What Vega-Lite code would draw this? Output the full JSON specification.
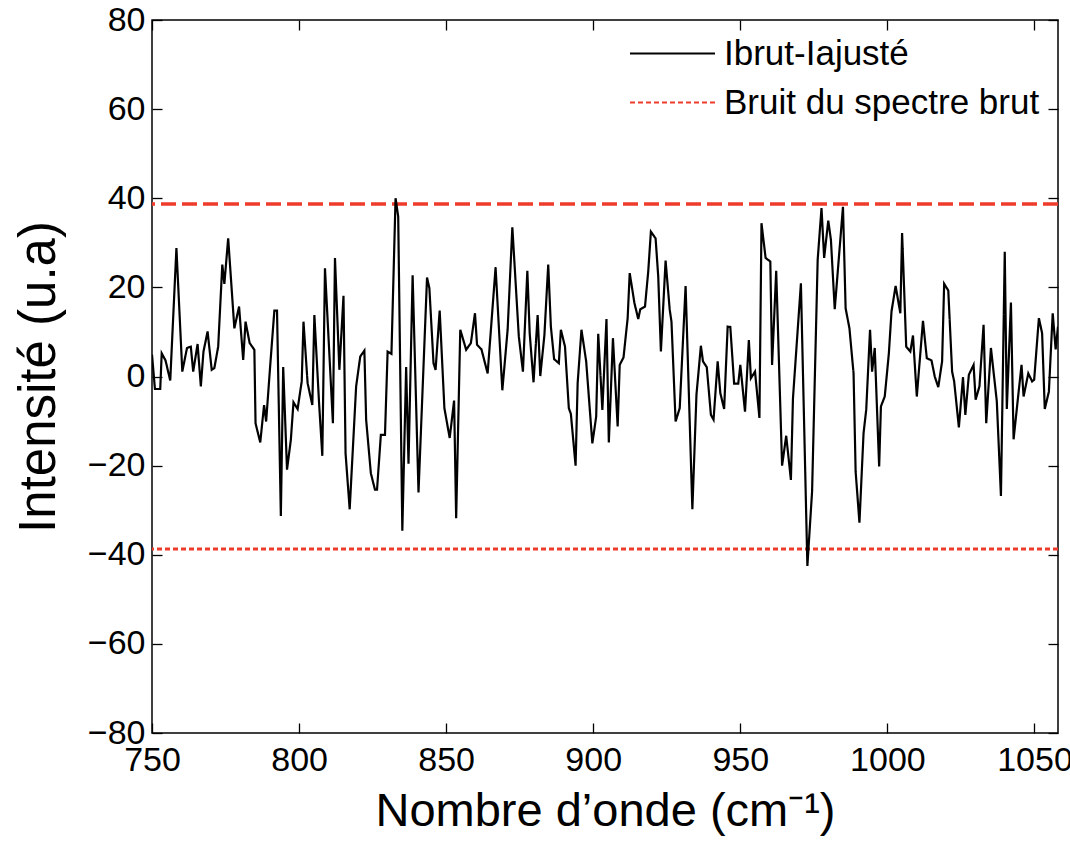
{
  "$schema": "https://vega.github.io/schema/vega-lite/v6.json",
  "width": 906,
  "height": 713,
  "autosize": {"type": "none"},
  "padding": {"left": 152, "top": 20, "right": 12, "bottom": 111},
  "background": "white",
  "config": {
    "font": "Liberation Sans",
    "view": {"stroke": "black", "strokeWidth": 1.5},
    "axis": {
      "grid": false,
      "domain": false,
      "offset": -10,
      "tickColor": "black",
      "tickWidth": 1.3,
      "tickSize": 10,
      "labelFlush": false,
      "labelColor": "black",
      "titleColor": "black",
      "labelFont": "Liberation Sans",
      "titleFont": "Liberation Sans",
      "labelFontSize": 34,
      "titleFontSize": 47,
      "titleFontWeight": "normal"
    },
    "legend": {
      "orient": "none",
      "legendX": 503,
      "legendY": 16,
      "labelFont": "Liberation Sans",
      "labelFontSize": 35,
      "labelColor": "black",
      "labelLimit": 500,
      "symbolType": "M-3,0H3",
      "symbolSize": 802,
      "symbolStrokeWidth": 2,
      "rowPadding": 13,
      "labelOffset": 34,
      "padding": 0
    }
  },
  "datasets": {
    "spec": [
      {"x":750.0,"y":4.9},{"x":751.0,"y":-2.8},{"x":752.8,"y":-2.8},{"x":753.3,"y":5.2},{"x":754.6,"y":3.6},
      {"x":756.2,"y":-0.9},{"x":758.3,"y":28.8},{"x":760.3,"y":1.1},{"x":761.9,"y":6.4},{"x":763.2,"y":6.7},
      {"x":764.0,"y":1.1},{"x":765.5,"y":7.3},{"x":766.6,"y":-2.2},{"x":767.5,"y":5.6},{"x":768.9,"y":10.1},
      {"x":770.3,"y":1.5},{"x":771.2,"y":1.9},{"x":772.5,"y":6.7},{"x":773.9,"y":25.1},{"x":774.6,"y":20.8},
      {"x":775.9,"y":31.0},{"x":778.0,"y":10.8},{"x":779.6,"y":15.7},{"x":781.0,"y":3.7},{"x":781.8,"y":12.3},
      {"x":783.2,"y":7.5},{"x":784.8,"y":6.0},{"x":785.2,"y":-10.5},{"x":786.8,"y":-14.8},{"x":788.1,"y":-6.4},
      {"x":788.8,"y":-10.1},{"x":790.2,"y":2.6},{"x":791.6,"y":14.8},{"x":792.5,"y":14.8},{"x":793.8,"y":-31.3},
      {"x":794.6,"y":2.1},{"x":795.9,"y":-20.9},{"x":797.2,"y":-14.2},{"x":798.1,"y":-5.8},{"x":799.5,"y":-7.3},
      {"x":800.9,"y":-1.1},{"x":801.5,"y":12.3},{"x":802.9,"y":-1.5},{"x":804.5,"y":-6.4},{"x":805.2,"y":13.8},
      {"x":806.8,"y":-6.0},{"x":807.9,"y":-17.8},{"x":808.8,"y":24.3},{"x":811.5,"y":-10.5},{"x":812.2,"y":26.6},
      {"x":813.7,"y":1.5},{"x":815.1,"y":18.1},{"x":815.8,"y":-17.2},{"x":817.2,"y":-29.8},{"x":819.4,"y":-2.2},
      {"x":820.8,"y":4.5},{"x":822.2,"y":5.8},{"x":822.8,"y":-9.7},{"x":824.4,"y":-21.7},{"x":825.8,"y":-25.4},
      {"x":826.5,"y":-25.4},{"x":827.8,"y":-13.1},{"x":829.2,"y":-13.1},{"x":830.1,"y":5.6},{"x":831.4,"y":5.1},
      {"x":832.8,"y":40.0},{"x":833.7,"y":35.9},{"x":835.1,"y":-34.6},{"x":836.4,"y":2.1},{"x":837.2,"y":-19.6},
      {"x":838.6,"y":22.7},{"x":840.6,"y":-26.0},{"x":843.5,"y":22.2},{"x":844.3,"y":19.8},{"x":845.7,"y":3.0},
      {"x":846.4,"y":1.5},{"x":847.8,"y":14.8},{"x":849.4,"y":-7.1},{"x":851.2,"y":-13.8},{"x":852.7,"y":-5.4},
      {"x":853.4,"y":-31.8},{"x":854.8,"y":10.5},{"x":856.8,"y":6.0},{"x":858.4,"y":7.5},{"x":859.8,"y":14.2},
      {"x":860.5,"y":7.1},{"x":862.0,"y":6.1},{"x":864.1,"y":0.7},{"x":866.8,"y":24.5},{"x":869.1,"y":-3.1},
      {"x":870.9,"y":10.5},{"x":872.5,"y":33.5},{"x":874.7,"y":9.0},{"x":876.1,"y":1.1},{"x":877.6,"y":23.7},
      {"x":878.4,"y":9.7},{"x":879.7,"y":-1.3},{"x":881.1,"y":13.8},{"x":882.0,"y":0.1},{"x":883.4,"y":9.3},
      {"x":884.7,"y":25.1},{"x":885.6,"y":11.2},{"x":886.7,"y":3.9},{"x":888.3,"y":3.0},{"x":889.0,"y":10.5},
      {"x":890.4,"y":6.7},{"x":891.7,"y":-7.1},{"x":892.4,"y":-8.4},{"x":894.0,"y":-20.0},{"x":894.7,"y":-1.5},
      {"x":896.0,"y":10.5},{"x":897.6,"y":3.4},{"x":899.7,"y":-15.0},{"x":901.0,"y":-9.0},{"x":901.7,"y":9.6},
      {"x":903.1,"y":-7.5},{"x":904.5,"y":12.9},{"x":905.3,"y":-14.8},{"x":906.7,"y":8.6},{"x":908.3,"y":-11.2},
      {"x":909.0,"y":2.6},{"x":910.3,"y":4.3},{"x":911.7,"y":13.1},{"x":912.4,"y":23.2},{"x":914.0,"y":16.5},
      {"x":915.3,"y":12.9},{"x":916.0,"y":15.1},{"x":917.6,"y":15.7},{"x":918.7,"y":23.6},{"x":919.6,"y":32.5},
      {"x":921.2,"y":31.0},{"x":922.1,"y":22.4},{"x":923.0,"y":5.6},{"x":924.6,"y":26.0},{"x":926.0,"y":15.0},
      {"x":926.6,"y":12.3},{"x":928.0,"y":-10.1},{"x":929.4,"y":-7.1},{"x":931.4,"y":20.3},{"x":933.7,"y":-29.8},
      {"x":935.1,"y":-4.0},{"x":936.6,"y":6.9},{"x":937.3,"y":3.4},{"x":938.6,"y":2.1},{"x":940.0,"y":-8.6},
      {"x":940.9,"y":-9.7},{"x":942.3,"y":3.4},{"x":943.2,"y":-3.7},{"x":944.5,"y":-7.3},{"x":945.7,"y":11.2},
      {"x":946.6,"y":11.1},{"x":947.9,"y":-1.6},{"x":949.3,"y":-1.6},{"x":950.0,"y":2.6},{"x":951.6,"y":-7.9},
      {"x":952.9,"y":8.2},{"x":953.6,"y":-0.4},{"x":955.0,"y":1.1},{"x":956.5,"y":-9.3},{"x":957.2,"y":34.4},
      {"x":958.6,"y":26.6},{"x":960.2,"y":25.8},{"x":960.8,"y":2.6},{"x":962.2,"y":23.7},{"x":964.2,"y":-20.0},
      {"x":965.6,"y":-13.3},{"x":967.2,"y":-23.2},{"x":967.9,"y":-4.9},{"x":970.6,"y":20.9},{"x":972.8,"y":-42.5},
      {"x":974.4,"y":-25.8},{"x":976.3,"y":26.2},{"x":977.6,"y":37.8},{"x":978.5,"y":26.6},{"x":979.9,"y":35.0},
      {"x":980.8,"y":30.7},{"x":982.1,"y":15.1},{"x":984.9,"y":38.1},{"x":985.8,"y":15.3},{"x":987.1,"y":10.8},
      {"x":988.5,"y":0.7},{"x":989.2,"y":-21.3},{"x":990.5,"y":-32.8},{"x":991.9,"y":-12.7},{"x":992.8,"y":-7.5},
      {"x":994.1,"y":10.5},{"x":994.8,"y":1.1},{"x":995.7,"y":6.4},{"x":997.2,"y":-20.2},{"x":997.8,"y":-6.7},
      {"x":999.1,"y":-4.5},{"x":1000.5,"y":5.2},{"x":1001.4,"y":14.6},{"x":1002.8,"y":20.3},{"x":1004.4,"y":14.2},
      {"x":1005.0,"y":32.2},{"x":1006.4,"y":6.7},{"x":1007.8,"y":5.6},{"x":1008.7,"y":9.2},{"x":1010.0,"y":-4.5},
      {"x":1012.1,"y":12.5},{"x":1013.4,"y":4.1},{"x":1015.0,"y":3.6},{"x":1016.1,"y":0.0},{"x":1017.3,"y":-2.4},
      {"x":1018.6,"y":3.4},{"x":1019.3,"y":20.8},{"x":1020.7,"y":19.3},{"x":1022.0,"y":1.1},{"x":1022.7,"y":-1.1},
      {"x":1024.3,"y":-11.4},{"x":1025.7,"y":-0.2},{"x":1026.5,"y":-8.6},{"x":1027.7,"y":0.4},{"x":1029.3,"y":2.6},
      {"x":1030.0,"y":-5.2},{"x":1031.3,"y":-2.2},{"x":1032.7,"y":11.6},{"x":1033.6,"y":-10.5},{"x":1035.2,"y":6.4},
      {"x":1037.2,"y":-5.6},{"x":1038.6,"y":-26.8},{"x":1039.9,"y":28.0},{"x":1040.6,"y":-7.3},{"x":1042.0,"y":16.6},
      {"x":1042.9,"y":-14.1},{"x":1044.2,"y":-6.0},{"x":1045.6,"y":2.6},{"x":1046.3,"y":-4.5},{"x":1047.9,"y":0.7},
      {"x":1049.2,"y":-1.1},{"x":1049.9,"y":-0.7},{"x":1051.5,"y":13.1},{"x":1052.6,"y":9.7},{"x":1053.5,"y":-7.3},
      {"x":1054.9,"y":-3.4},{"x":1056.2,"y":14.2},{"x":1057.2,"y":6.1},{"x":1058.0,"y":11.2}
    ],
    "top": [{"y": 38.7}],
    "bottom": [{"y": -38.7}]
  },
  "resolve": {"axis": {"x": "independent", "y": "independent"}},
  "layer": [
    {
      "data": {"name": "top"},
      "mark": {"type": "rule", "color": "#ee3b2b", "strokeWidth": 3.5, "strokeDash": [15, 6]},
      "encoding": {
        "y": {"field": "y", "type": "quantitative", "scale": {"domain": [-80, 80], "nice": false}, "axis": null}
      }
    },
    {
      "data": {"name": "bottom"},
      "mark": {"type": "rule", "strokeWidth": 3},
      "encoding": {
        "y": {"field": "y", "type": "quantitative", "axis": null},
        "color": {"datum": "Bruit du spectre brut"},
        "strokeDash": {"datum": "Bruit du spectre brut"}
      }
    },
    {
      "data": {"name": "spec"},
      "mark": {"type": "line", "opacity": 0},
      "encoding": {
        "x": {
          "field": "x", "type": "quantitative",
          "axis": {"orient": "top", "values": [750, 800, 850, 900, 950, 1000, 1050], "labels": false, "ticks": true, "title": null}
        },
        "y": {
          "field": "y", "type": "quantitative",
          "axis": {"orient": "right", "values": [-80, -60, -40, -20, 0, 20, 40, 60, 80], "labels": false, "ticks": true, "title": null}
        }
      }
    },
    {
      "data": {"name": "spec"},
      "mark": {"type": "line", "strokeWidth": 2.2, "clip": true},
      "encoding": {
        "x": {
          "field": "x", "type": "quantitative",
          "scale": {"domain": [750, 1058], "nice": false, "zero": false},
          "axis": {"orient": "bottom", "values": [750, 800, 850, 900, 950, 1000, 1050], "format": "d", "labelPadding": 10, "title": "Nombre d’onde (cm⁻¹)", "titlePadding": 11}
        },
        "y": {
          "field": "y", "type": "quantitative",
          "axis": {"orient": "left", "values": [-80, -60, -40, -20, 0, 20, 40, 60, 80], "labelPadding": 7, "title": "Intensité (u.a)", "titleFontSize": 51, "titlePadding": 22}
        },
        "color": {
          "datum": "Ibrut-Iajusté",
          "scale": {"domain": ["Ibrut-Iajusté", "Bruit du spectre brut"], "range": ["#000000", "#ee3b2b"]},
          "legend": {"title": null}
        },
        "strokeDash": {
          "datum": "Ibrut-Iajusté",
          "scale": {"domain": ["Ibrut-Iajusté", "Bruit du spectre brut"], "range": [[1, 0], [5, 3]]},
          "legend": {"title": null}
        }
      }
    }
  ]
}
